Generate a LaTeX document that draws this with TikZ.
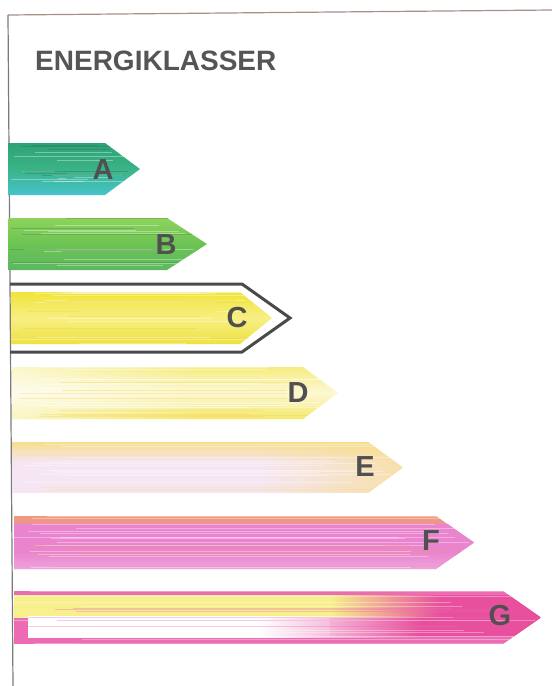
\documentclass[tikz,border=0pt]{standalone}
\usepackage{fontspec}
\setmainfont{Liberation Sans}
\usetikzlibrary{fadings}
\tikzfading[name=fadeR, left color=transparent!0, right color=transparent!100]
\tikzfading[name=fadeL, left color=transparent!100, right color=transparent!0]
\tikzfading[name=fadeD, top color=transparent!0, bottom color=transparent!100]
\definecolor{lettergray}{HTML}{505050}
\definecolor{titlegray}{HTML}{555555}
\definecolor{frametopc}{HTML}{A89088}
\definecolor{frameleftc}{HTML}{7A7A7A}
\definecolor{aT}{HTML}{2EA276}
\definecolor{aM}{HTML}{3BB387}
\definecolor{aB}{HTML}{46C4CC}
\definecolor{bT}{HTML}{8ED35C}
\definecolor{bM}{HTML}{6CC353}
\definecolor{bB}{HTML}{5CB860}
\definecolor{cT}{HTML}{F1E43A}
\definecolor{cM}{HTML}{F7EF84}
\definecolor{cB}{HTML}{EEE140}
\definecolor{cOut}{HTML}{4A4A4A}
\definecolor{dT}{HTML}{F6EC80}
\definecolor{dM}{HTML}{FCF8D4}
\definecolor{dB}{HTML}{F4E86A}
\definecolor{eT}{HTML}{F8DE8C}
\definecolor{eM}{HTML}{F6E6F3}
\definecolor{fT}{HTML}{F09A7C}
\definecolor{fM}{HTML}{EA84CE}
\definecolor{fB}{HTML}{EEA4DC}
\definecolor{gPink}{HTML}{EC6CB4}
\definecolor{gDeep}{HTML}{E8509E}
\definecolor{gYel}{HTML}{F8F08C}
\newcommand\enarrow[5]{(#1,#2) -- (#4,#2) -- (#5,{(#2+#3)/2}) -- (#4,#3) -- (#1,#3) -- cycle}
\newcommand\streaks[6]{%
  \foreach \k in {1,...,#6}{%
    \pgfmathsetmacro\yy{#2+rnd*(#3-#2)}%
    \pgfmathsetmacro\xs{#1+rnd*70}%
    \pgfmathsetmacro\xe{#4-rnd*90}%
    \draw[#5, line width=0.8, opacity=0.35] (\xs,\yy) -- (\xe,\yy);
  }}
\tikzset{
  lettr/.style={text=lettergray, font=\fontsize{29}{29}\selectfont\bfseries, inner sep=0pt},
  titletext/.style={text=titlegray, font=\fontsize{28}{28}\selectfont\bfseries, inner sep=0pt},
  frametop/.style={draw=frametopc, line width=1.2pt},
  frameleft/.style={draw=frameleftc, line width=1.2pt},
  outlinec/.style={draw=cOut, line width=3pt, line join=miter}
}
\begin{document}
\begin{tikzpicture}[x=1pt,y=-1pt]
\pgfmathsetseed{11}
\useasboundingbox (0,0) rectangle (552,686);
\fill[white] (0,0) rectangle (552,686);
% frame
\coordinate (ftl) at (8,15);
\coordinate (ftr) at (552,10);
\coordinate (fbl) at (13,686);
\draw[frametop] (ftl) -- (ftr);
\draw[frameleft] (ftl) -- (fbl);
% title
\node[titletext, anchor=base west] (title) at (35,70) {ENERGIKLASSER};
% A
\begin{scope}
\clip \enarrow{8}{143}{195}{105}{140};
\shade[top color=aT, bottom color=aB, middle color=aM] (8,143) rectangle (140,195);
\streaks{8}{143}{195}{140}{white}{10}
\streaks{8}{143}{195}{140}{aT!70!black}{6}
\end{scope}
% B
\begin{scope}
\clip \enarrow{8.5}{218}{270}{167}{207};
\shade[top color=bT, bottom color=bB, middle color=bM] (8,218) rectangle (207,270);
\streaks{8}{218}{270}{207}{white}{10}
\streaks{8}{218}{270}{207}{bB!70!black}{6}
\end{scope}
% C
\begin{scope}
\clip \enarrow{11}{292}{344}{240}{272};
\shade[top color=cT, bottom color=cB, middle color=cM] (11,292) rectangle (272,344);
\streaks{11}{292}{344}{272}{white}{14}
\streaks{11}{292}{344}{272}{cT!80!orange}{6}
\end{scope}
\coordinate (cs1) at (10,284);
\coordinate (cs2) at (242,284);
\coordinate (ctip) at (290,318);
\coordinate (cs3) at (242,352);
\coordinate (cs4) at (10,352);
\draw[outlinec] (cs1) -- (cs2) -- (ctip) -- (cs3) -- (cs4);
% D
\begin{scope}
\clip \enarrow{12}{367}{419}{303}{338};
\shade[top color=dT, bottom color=dB, middle color=dM] (12,367) rectangle (338,419);
\fill[white, opacity=0.6, path fading=fadeR] (12,367) rectangle (200,419);
\streaks{12}{367}{419}{338}{white}{14}
\streaks{12}{367}{419}{338}{dB!80!orange}{8}
\end{scope}
% E
\begin{scope}
\clip \enarrow{12}{442}{493}{368}{403};
\fill[eM] (12,442) rectangle (403,493);
\fill[eT, path fading=fadeD] (12,442) rectangle (403,462);
\fill[eT, opacity=0.7, path fading=fadeL] (260,442) rectangle (403,493);
\streaks{12}{442}{493}{403}{white}{12}
\streaks{12}{442}{493}{403}{eT}{6}
\end{scope}
% F
\begin{scope}
\clip \enarrow{14}{516}{569}{436}{474};
\shade[top color=fT, bottom color=fB, middle color=fM] (14,516) rectangle (474,569);
\fill[fM] (14,524) rectangle (474,556);
\shade[top color=fM, bottom color=fB] (14,552) rectangle (474,569);
\streaks{14}{516}{569}{474}{white}{16}
\streaks{14}{516}{569}{474}{fT}{8}
\end{scope}
% G
\begin{scope}
\clip \enarrow{14}{591}{644}{503}{541};
\fill[gPink] (14,591) rectangle (541,644);
\fill[gDeep] (330,595) rectangle (541,636);
\fill[gYel] (14,595) rectangle (330,618);
\fill[gYel, path fading=fadeR] (330,595) rectangle (440,618);
\fill[white] (28,616) rectangle (260,638);
\fill[white, path fading=fadeR] (260,616) rectangle (420,638);
\streaks{14}{591}{644}{541}{white}{12}
\streaks{14}{591}{644}{541}{gPink}{8}
\end{scope}
% letters
\node[lettr] (la) at (103,170) {A};
\node[lettr] (lb) at (166,245) {B};
\node[lettr] (lc) at (237,318) {C};
\node[lettr] (ld) at (298,393) {D};
\node[lettr] (le) at (365,467) {E};
\node[lettr] (lf) at (431,541) {F};
\node[lettr] (lg) at (500,616) {G};
\end{tikzpicture}
\end{document}
